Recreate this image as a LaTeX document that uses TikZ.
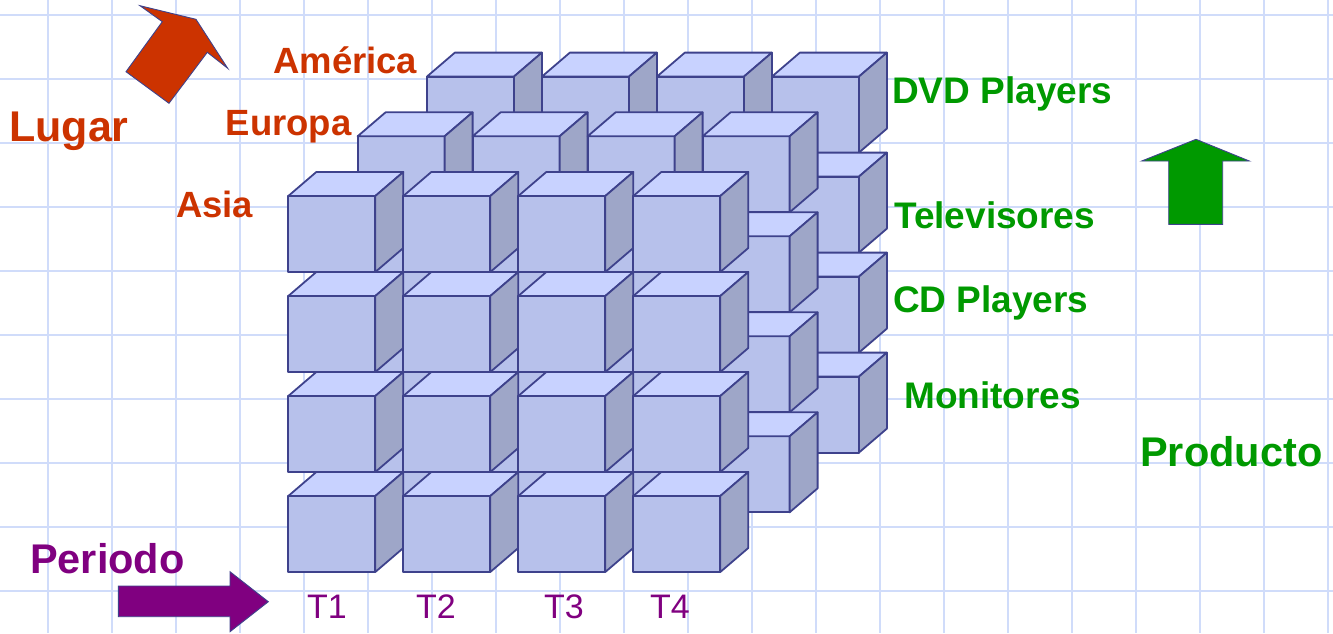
\documentclass[tikz,border=0pt]{standalone}
\usepackage{fontspec}
\setmainfont{Liberation Sans}
\usepackage{xcolor}
\definecolor{gridblue}{RGB}{208,220,250}
\definecolor{cubeedge}{RGB}{62,66,140}
\definecolor{cubefront}{RGB}{183,193,235}
\definecolor{cubetop}{RGB}{200,210,255}
\definecolor{cubeside}{RGB}{158,166,200}
\definecolor{lugarred}{RGB}{204,51,0}
\definecolor{prodgreen}{RGB}{0,153,0}
\definecolor{periodpurple}{RGB}{128,0,128}

\begin{document}
\begin{tikzpicture}[
  x=1pt, y=-1pt,
  gridline/.style={draw=gridblue, line width=2.7pt},
  face/.style={draw=cubeedge, line width=1.8pt, line join=round},
  blockarrow/.style={draw=cubeedge, line width=0.9pt, line join=miter},
  label/.style={inner sep=0pt, anchor=base west, font=\bfseries\fontsize{36.5}{40}\selectfont},
  lugar/.style={label, text=lugarred},
  producto/.style={label, text=prodgreen, font=\bfseries\fontsize{37}{40}\selectfont},
  periodo/.style={inner sep=0pt, anchor=base, text=periodpurple, font=\fontsize{34}{38}\selectfont},
  cubo/.pic={
    \filldraw[face, fill=cubefront] (0,0) rectangle (87,76);
    \filldraw[face, fill=cubetop] (0,0) -- (28,-24) -- (115,-24) -- (87,0) -- cycle;
    \filldraw[face, fill=cubeside] (87,0) -- (115,-24) -- (115,52) -- (87,76) -- cycle;
  },
]
  \useasboundingbox (0,0) rectangle (1333,633);

  % grid
  \foreach \gx in {0,...,20} \draw[gridline] ({48+64*\gx},0) -- ({48+64*\gx},633);
  \foreach \gy in {0,...,9} \draw[gridline] (0,{15+64*\gy}) -- (1333,{15+64*\gy});

  % cubes: back layer first
  \foreach \capa in {2,1,0}
    \foreach \fila in {0,...,3}
      \foreach \col in {0,...,3}
        \pic at ({288.3+69.3*\capa+115*\col},{196-59.7*\capa+100*\fila}) {cubo};

  % block arrows
  \filldraw[blockarrow, fill=lugarred] (140,5.7) -- (196,19.3) -- (227.7,68.3) -- (207.3,52.3)
    -- (169,103.3) -- (126,71.7) -- (162.3,21.7) -- cycle;
  \filldraw[blockarrow, fill=prodgreen] (1196,139.3) -- (1249.3,161) -- (1222.7,161) -- (1222.7,224.3)
    -- (1168.7,224.3) -- (1168.7,161) -- (1141.7,161) -- cycle;
  \filldraw[blockarrow, fill=periodpurple] (118.3,586) -- (230,586) -- (230,571.7) -- (268.3,601.7)
    -- (230,631.7) -- (230,616.7) -- (118.3,616.7) -- cycle;

  % place labels
  \node[lugar, font=\bfseries\fontsize{43}{47}\selectfont] (lugar) at (9,141) {Lugar};
  \node[lugar] (america) at (273,73) {América};
  \node[lugar] (europa) at (225.5,135) {Europa};
  \node[lugar] (asia) at (176,217) {Asia};

  % product labels
  \node[producto] (dvd) at (892,103.5) {DVD Players};
  \node[producto] (tv) at (894,228) {Televisores};
  \node[producto] (cd) at (893,312.5) {CD Players};
  \node[producto] (monitores) at (904,408.3) {Monitores};
  \node[producto, font=\bfseries\fontsize{41.5}{45}\selectfont] (producto) at (1140,466.7) {Producto};

  % period labels
  \node[lugar, text=periodpurple, font=\bfseries\fontsize{41.5}{45}\selectfont] (periodo) at (30,573) {Periodo};
  \node[periodo] (t1) at (327,618) {T1};
  \node[periodo] (t2) at (436,618) {T2};
  \node[periodo] (t3) at (564,618) {T3};
  \node[periodo] (t4) at (670,618) {T4};
\end{tikzpicture}
\end{document}
